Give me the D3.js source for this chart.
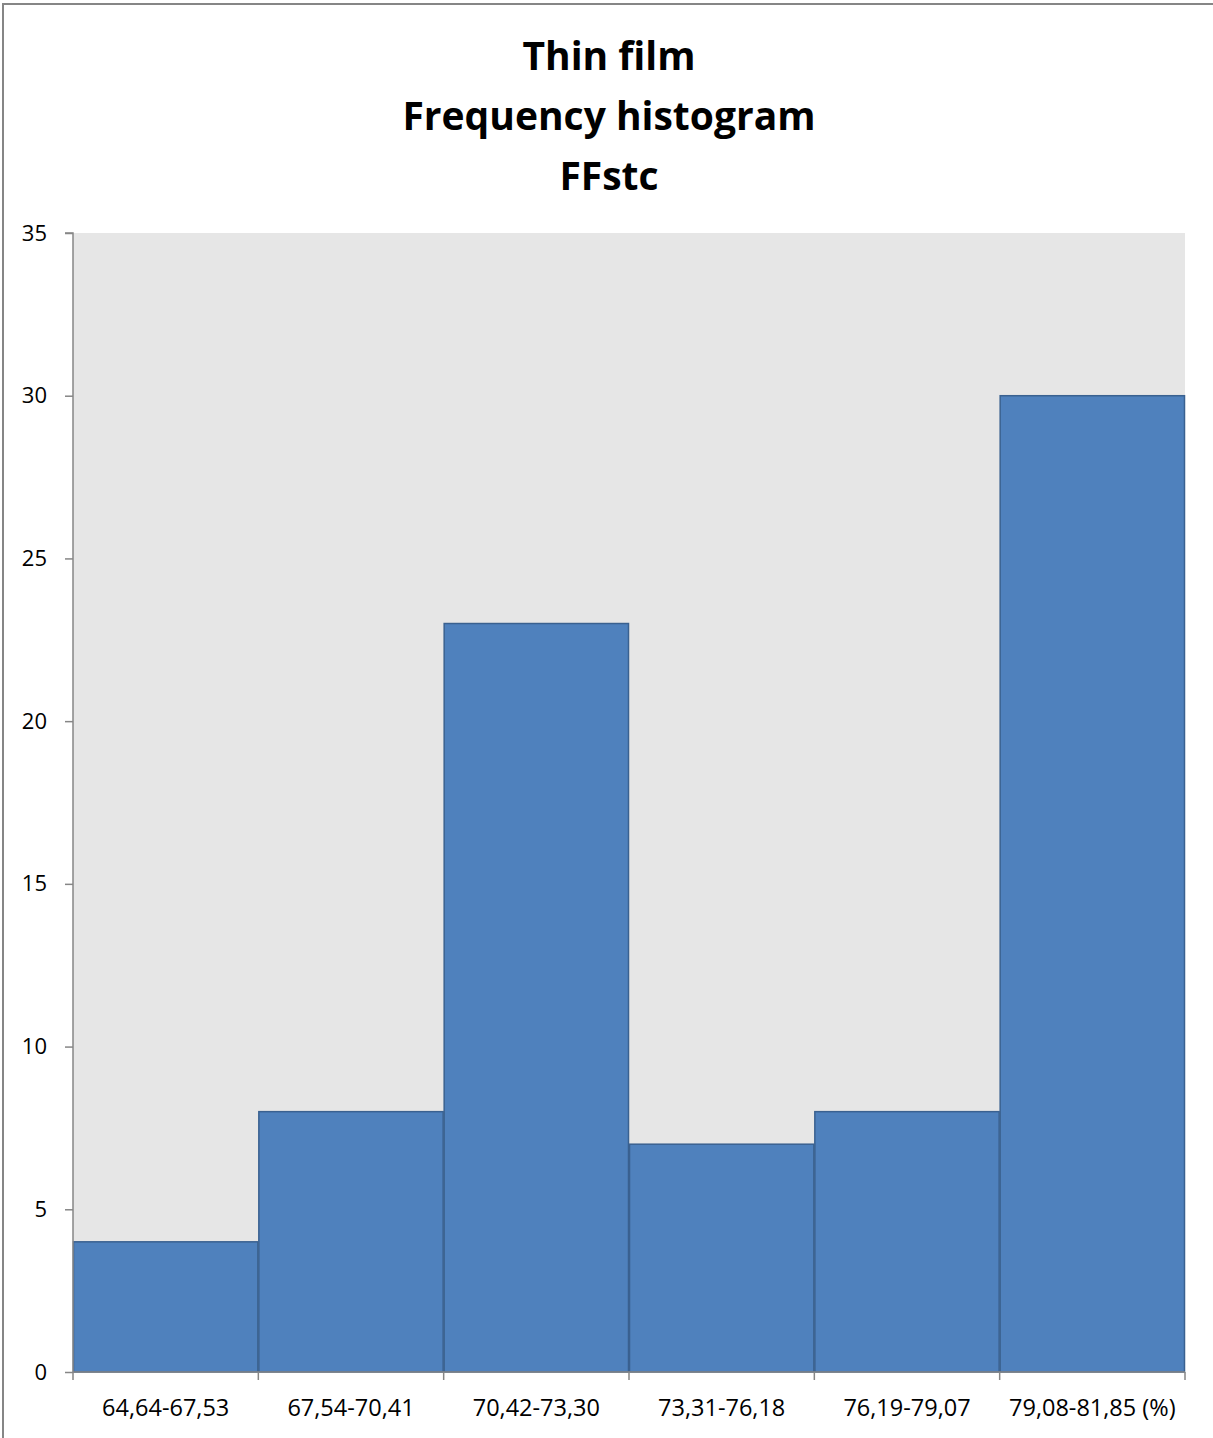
<!DOCTYPE html>
<html><head><meta charset="utf-8">
<script src="https://cdn.jsdelivr.net/npm/d3@7"></script>
<style>body{margin:0;background:#fff}svg{display:block}</style>
</head><body>
<script>
const categories = ["64,64-67,53","67,54-70,41","70,42-73,30","73,31-76,18","76,19-79,07","79,08-81,85 (%)"];
const counts = [4, 8, 23, 7, 8, 30];
const yTicks = [0,5,10,15,20,25,30,35];
const titleLines = ["Thin film","Frequency histogram","FFstc"];

const W = 1213, H = 1438;
const m = {left:73, right:1185, top:233, bottom:1372};
const font = "'Open Sans', sans-serif";

const svg = d3.select("body").append("svg").attr("width",W).attr("height",H);
svg.append("rect").attr("width",W).attr("height",H).attr("fill","#fff");
// outer chart border
svg.append("rect").attr("x",3).attr("y",4).attr("width",W+10).attr("height",H+10)
  .attr("fill","none").attr("stroke","#868686").attr("stroke-width",2);

const x = d3.scaleBand().domain(categories).range([m.left,m.right]).padding(0);
const y = d3.scaleLinear().domain([0,35]).range([m.bottom,m.top]);

svg.append("rect").attr("x",m.left).attr("y",m.top).attr("width",m.right-m.left).attr("height",m.bottom-m.top).attr("fill","#E6E6E6");

svg.selectAll("rect.bar").data(counts).join("rect").attr("class","bar")
  .attr("x",(d,i)=>x(categories[i])+0.5)
  .attr("y",d=>y(d))
  .attr("width",x.bandwidth()-1)
  .attr("height",d=>y(0)-y(d))
  .attr("fill","#4F81BD").attr("stroke","#3A6190").attr("stroke-width",1.5);

// y axis
const ya = svg.append("g").attr("transform",`translate(${m.left},0)`)
  .call(d3.axisLeft(y).tickValues(yTicks).tickSize(8).tickPadding(18).tickFormat(d3.format("d")));
ya.select(".domain").attr("stroke","#868686").attr("stroke-width",1.5).attr("d",`M-8,${m.top}H0V${m.bottom}`);
ya.selectAll(".tick line").attr("stroke","#868686").attr("stroke-width",1.5);
ya.selectAll(".tick text").attr("font-family",font).attr("font-size",22).attr("fill","#000");

// x axis
const xa = svg.append("g").attr("transform",`translate(0,${m.bottom})`)
  .call(d3.axisBottom(x).tickSize(0).tickPadding(27));
xa.select(".domain").attr("stroke","#868686").attr("stroke-width",1.5).attr("d",`M${m.left},0H${m.right}`);
xa.selectAll(".tick text").attr("font-family",font).attr("font-size",23.5).attr("fill","#000");
const bounds = categories.map(c=>x(c)).concat([m.right]);
svg.append("g").selectAll("line").data(bounds).join("line")
  .attr("x1",d=>d).attr("x2",d=>d).attr("y1",m.bottom).attr("y2",m.bottom+8)
  .attr("stroke","#868686").attr("stroke-width",1.5);

// title
svg.append("g").selectAll("text").data(titleLines).join("text")
  .attr("x",609).attr("y",(d,i)=>70+i*60).attr("text-anchor","middle")
  .attr("font-family",font).attr("font-weight","bold").attr("font-size",39).attr("fill","#000")
  .text(d=>d);
</script>
</body></html>
